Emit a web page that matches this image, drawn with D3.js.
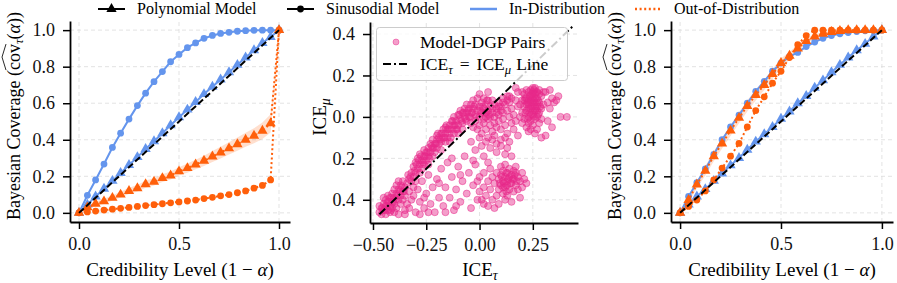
<!DOCTYPE html>
<html>
<head>
<meta charset="utf-8">
<script src="https://cdn.jsdelivr.net/npm/d3@7"></script>
<style>
  body { margin: 0; background: #fff; }
  svg { display: block; }
  text { font-family: "Liberation Serif", "DejaVu Serif", serif; }
</style>
</head>
<body>
<script>
// credibility levels (1 - alpha), 25 points
const credLevels = [0, 0.042, 0.083, 0.125, 0.167, 0.208, 0.25, 0.292, 0.333, 0.375, 0.417, 0.458,
  0.5, 0.542, 0.583, 0.625, 0.667, 0.708, 0.75, 0.792, 0.833, 0.875, 0.917, 0.958, 1.0];

// left panel
const leftPolyIn = [0, 0.045, 0.09, 0.132, 0.175, 0.218, 0.262, 0.305, 0.35, 0.392, 0.436, 0.48,
  0.523, 0.565, 0.607, 0.65, 0.69, 0.73, 0.77, 0.81, 0.85, 0.89, 0.93, 0.962, 1.0];
const leftSinIn = [0, 0.096, 0.18, 0.267, 0.358, 0.436, 0.513, 0.587, 0.655, 0.718, 0.773, 0.827,
  0.867, 0.904, 0.93, 0.955, 0.971, 0.982, 0.988, 0.994, 0.997, 0.999, 1, 1, 1];
const leftPolyOod = [0, 0.03, 0.05, 0.063, 0.082, 0.1, 0.12, 0.135, 0.157, 0.17, 0.19, 0.205,
  0.227, 0.245, 0.265, 0.285, 0.309, 0.33, 0.353, 0.376, 0.4, 0.422, 0.449, 0.49, 1.0];
const leftPolyOodLo = [0, 0.02, 0.038, 0.049, 0.067, 0.084, 0.103, 0.117, 0.137, 0.15, 0.169, 0.183,
  0.204, 0.22, 0.239, 0.257, 0.279, 0.298, 0.319, 0.34, 0.362, 0.381, 0.404, 0.44, 1.0];
const leftPolyOodHi = [0, 0.04, 0.062, 0.077, 0.097, 0.116, 0.137, 0.153, 0.177, 0.19, 0.211, 0.227,
  0.25, 0.27, 0.291, 0.313, 0.339, 0.362, 0.387, 0.412, 0.438, 0.463, 0.494, 0.54, 1.0];
const leftSinOod = [0, 0.005, 0.01, 0.015, 0.02, 0.025, 0.03, 0.035, 0.04, 0.045, 0.05, 0.055,
  0.06, 0.065, 0.07, 0.078, 0.085, 0.093, 0.1, 0.11, 0.12, 0.135, 0.15, 0.18, 1.0];

// right panel
const rightPolyIn = [0, 0.045, 0.09, 0.13, 0.175, 0.215, 0.26, 0.3, 0.345, 0.39, 0.43, 0.47,
  0.515, 0.555, 0.6, 0.64, 0.685, 0.725, 0.77, 0.81, 0.85, 0.89, 0.925, 0.965, 1.0];
const rightSinIn = [0, 0.09, 0.165, 0.24, 0.32, 0.40, 0.47, 0.535, 0.60, 0.665, 0.72, 0.775,
  0.82, 0.855, 0.878, 0.91, 0.935, 0.955, 0.97, 0.98, 0.987, 0.992, 0.996, 0.998, 1.0];
const rightPolyOod = [0, 0.07, 0.155, 0.23, 0.31, 0.38, 0.45, 0.52, 0.585, 0.645, 0.70, 0.76,
  0.82, 0.86, 0.90, 0.94, 0.965, 0.98, 0.99, 0.995, 1, 1, 1, 1, 1];
const rightPolyOodLo = [0, 0.055, 0.135, 0.205, 0.283, 0.352, 0.421, 0.49, 0.555, 0.615, 0.672, 0.732,
  0.795, 0.838, 0.882, 0.925, 0.953, 0.97, 0.983, 0.99, 0.996, 0.998, 0.999, 1, 1];
const rightPolyOodHi = [0, 0.085, 0.175, 0.255, 0.337, 0.408, 0.479, 0.55, 0.615, 0.675, 0.728, 0.788,
  0.845, 0.882, 0.918, 0.955, 0.977, 0.99, 0.997, 1, 1, 1, 1, 1, 1];
const rightSinOod = [0, 0.035, 0.07, 0.12, 0.18, 0.245, 0.31, 0.38, 0.47, 0.56, 0.635, 0.71,
  0.775, 0.85, 0.92, 0.97, 1, 1, 1, 1, 1, 1, 1, 1, 1];

// middle panel: [ICE_tau, ICE_mu] per model-DGP pair
const icePairs = [
  // bottom-left blob
  [-0.47,-0.46],[-0.46,-0.44],[-0.46,-0.47],[-0.45,-0.42],[-0.45,-0.45],[-0.44,-0.43],[-0.44,-0.40],[-0.44,-0.47],
  [-0.43,-0.45],[-0.43,-0.41],[-0.43,-0.38],[-0.42,-0.43],[-0.42,-0.39],[-0.42,-0.46],[-0.41,-0.41],[-0.41,-0.37],
  [-0.41,-0.44],[-0.40,-0.39],[-0.40,-0.35],[-0.40,-0.42],[-0.39,-0.37],[-0.39,-0.33],[-0.39,-0.44],[-0.38,-0.40],
  [-0.38,-0.35],[-0.38,-0.31],[-0.37,-0.38],[-0.37,-0.33],[-0.37,-0.42],[-0.36,-0.36],[-0.36,-0.31],[-0.36,-0.40],
  [-0.35,-0.34],[-0.35,-0.38],[-0.34,-0.32],[-0.34,-0.42],[-0.33,-0.36],[-0.33,-0.30],[-0.45,-0.39],[-0.47,-0.43],
  [-0.40,-0.46],[-0.38,-0.47],[-0.35,-0.45],[-0.32,-0.40],[-0.31,-0.34],
  [-0.455,-0.44],[-0.435,-0.43],[-0.425,-0.41],[-0.415,-0.39],[-0.405,-0.41],[-0.395,-0.40],[-0.385,-0.38],
  [-0.375,-0.36],[-0.365,-0.34],[-0.355,-0.36],[-0.415,-0.45],[-0.445,-0.45],
  // band along the diagonal
  [-0.32,-0.27],[-0.32,-0.31],[-0.31,-0.24],[-0.31,-0.29],[-0.30,-0.22],[-0.30,-0.27],[-0.30,-0.31],[-0.29,-0.25],
  [-0.29,-0.20],[-0.28,-0.23],[-0.28,-0.27],[-0.28,-0.18],[-0.27,-0.21],[-0.27,-0.25],[-0.26,-0.19],[-0.26,-0.23],
  [-0.26,-0.16],[-0.25,-0.21],[-0.25,-0.17],[-0.24,-0.19],[-0.24,-0.15],[-0.24,-0.23],[-0.23,-0.17],[-0.23,-0.13],
  [-0.22,-0.15],[-0.22,-0.19],[-0.22,-0.11],[-0.21,-0.13],[-0.21,-0.17],[-0.20,-0.11],[-0.20,-0.15],[-0.20,-0.09],
  [-0.19,-0.13],[-0.19,-0.10],[-0.18,-0.08],[-0.18,-0.12],[-0.18,-0.16],[-0.17,-0.10],[-0.17,-0.06],[-0.16,-0.08],
  [-0.16,-0.12],[-0.16,-0.05],[-0.15,-0.06],[-0.15,-0.10],[-0.14,-0.04],[-0.14,-0.08],[-0.14,-0.12],[-0.13,-0.06],
  [-0.13,-0.02],[-0.12,-0.04],[-0.12,-0.08],[-0.12,0.00],[-0.11,-0.02],[-0.11,-0.06],[-0.10,0.01],[-0.10,-0.04],
  [-0.10,-0.08],[-0.09,-0.01],[-0.09,0.03],[-0.08,0.02],[-0.08,-0.03],[-0.08,-0.06],[-0.07,0.00],[-0.07,0.04],
  [-0.06,0.02],[-0.06,-0.02],[-0.06,0.06],[-0.05,0.04],[-0.05,0.00],[-0.04,0.06],[-0.04,0.02],[-0.04,-0.03],
  [-0.03,0.04],[-0.03,0.08],[-0.02,0.01],[-0.02,0.06],[-0.02,-0.02],[-0.01,0.03],[-0.01,0.09],[0.00,0.05],
  [0.00,0.00],[0.00,0.11],[0.01,0.02],[0.01,0.07],[0.02,0.04],[0.02,0.09],[0.02,-0.01],[0.03,0.06],
  [0.03,0.02],[0.04,0.08],[0.04,0.03],[0.04,0.12],[0.05,0.05],[0.05,0.00],[0.07,0.06],[0.09,0.05],
  [0.11,0.07],[0.13,0.08],[0.14,0.10],
  [-0.335,-0.28],[-0.325,-0.29],[-0.305,-0.26],[-0.295,-0.23],[-0.285,-0.21],[-0.275,-0.19],[-0.265,-0.22],
  [-0.255,-0.19],[-0.245,-0.17],[-0.235,-0.20],[-0.225,-0.14],[-0.215,-0.15],[-0.205,-0.13],[-0.195,-0.08],
  [-0.185,-0.11],[-0.175,-0.08],[-0.165,-0.10],[-0.155,-0.04],[-0.145,-0.06],[-0.135,-0.10],[-0.125,-0.02],
  [-0.115,-0.04],[-0.105,-0.06],[-0.095,0.01],[-0.085,-0.02],[-0.075,0.02],[-0.065,-0.01],[-0.055,0.03],
  [-0.045,0.00],[-0.035,0.02],[-0.025,0.05],[-0.015,0.00],[0.005,0.03],[0.015,0.05],[0.025,0.02],[0.035,0.08],
  [0.045,0.01],[0.06,0.04],[0.08,0.02],[0.10,0.03],
  // around the origin, spreading right
  [0.02,-0.03],[0.03,-0.06],[0.04,-0.01],[0.05,-0.04],[0.06,0.02],[0.06,-0.07],[0.07,0.00],[0.07,-0.03],
  [0.08,0.04],[0.08,-0.05],[0.09,0.01],[0.09,-0.02],[0.10,0.05],[0.10,-0.06],[0.11,0.02],[0.11,-0.01],
  [0.12,0.06],[0.12,-0.04],[0.13,0.03],[0.13,-0.08],[0.14,0.00],[0.14,0.07],[0.15,-0.03],[0.15,0.04],
  [0.16,-0.06],[0.16,0.01],[0.17,0.08],[0.17,-0.02],[0.18,-0.09],[0.18,0.05],[0.00,-0.04],[-0.01,-0.06],
  [-0.03,-0.05],[0.01,-0.08],[0.04,-0.10],[0.07,-0.09],[0.10,-0.11],[0.12,-0.10],[0.03,0.00],[0.06,0.08],
  [0.09,0.07],[0.11,0.09],[0.13,0.10],[0.15,0.09],[0.08,-0.13],
  // dense blob on the right
  [0.20,0.02],[0.20,0.08],[0.20,-0.03],[0.21,0.05],[0.21,0.11],[0.21,-0.01],[0.22,0.03],[0.22,0.09],
  [0.22,-0.05],[0.22,0.13],[0.23,0.00],[0.23,0.06],[0.23,0.12],[0.23,-0.03],[0.24,0.04],[0.24,0.10],
  [0.24,-0.02],[0.24,0.07],[0.24,0.13],[0.25,0.01],[0.25,0.05],[0.25,0.09],[0.25,-0.04],[0.25,0.12],
  [0.26,0.03],[0.26,0.07],[0.26,0.11],[0.26,-0.01],[0.26,0.14],[0.27,0.05],[0.27,0.09],[0.27,0.00],
  [0.27,0.12],[0.27,-0.06],[0.28,0.02],[0.28,0.07],[0.28,0.11],[0.28,-0.03],[0.29,0.04],[0.29,0.10],
  [0.29,-0.01],[0.30,0.06],[0.30,0.12],[0.23,0.08],[0.24,0.01],[0.25,0.07],[0.26,0.05],[0.27,0.03],
  [0.22,0.06],[0.21,0.08],[0.24,-0.06],[0.26,-0.08],[0.23,-0.07],[0.19,0.00],[0.19,0.06],[0.20,0.12],
  [0.28,0.13],[0.25,0.14],[0.24,0.08],[0.25,0.03],[0.26,0.09],[0.23,0.04],[0.27,0.07],[0.25,0.11],
  [0.215,0.02],[0.225,0.07],[0.235,0.10],[0.245,0.05],[0.255,0.00],[0.255,0.08],[0.265,0.04],[0.265,0.12],
  [0.275,0.08],[0.235,0.02],[0.245,0.11],[0.255,0.13],[0.225,-0.01],[0.275,0.01],[0.285,0.05],[0.215,0.09],
  [0.32,0.07],[0.33,0.04],[0.34,0.09],[0.35,0.07],[0.36,0.08],[0.37,0.10],[0.32,-0.02],[0.34,-0.05],
  [0.31,-0.09],[0.29,-0.10],[0.38,0.00],[0.41,0.00],[0.31,0.12],[0.33,0.13],[0.18,0.12],[0.17,0.14],
  // lower-right blob
  [0.08,-0.27],[0.09,-0.30],[0.10,-0.28],[0.10,-0.33],[0.11,-0.26],[0.11,-0.31],[0.12,-0.29],[0.12,-0.34],
  [0.13,-0.27],[0.13,-0.31],[0.14,-0.25],[0.14,-0.29],[0.14,-0.35],[0.15,-0.28],[0.15,-0.32],[0.16,-0.26],
  [0.16,-0.30],[0.17,-0.33],[0.17,-0.27],[0.18,-0.29],[0.18,-0.35],[0.19,-0.31],[0.20,-0.27],[0.20,-0.34],
  [0.21,-0.30],[0.07,-0.32],[0.06,-0.29],[0.05,-0.35],[0.04,-0.31],[0.03,-0.38],[0.02,-0.34],[0.01,-0.40],
  [0.00,-0.36],[-0.01,-0.31],[0.06,-0.40],[0.08,-0.38],[0.09,-0.42],[0.11,-0.37],[0.12,-0.40],[0.13,-0.38],
  [0.15,-0.41],[0.16,-0.36],[0.19,-0.39],[0.04,-0.43],[0.02,-0.42],[0.07,-0.44],[0.10,-0.24],[0.12,-0.23],
  [0.05,-0.25],[0.02,-0.27],[0.00,-0.29],[0.17,-0.24],[0.22,-0.32],[0.11,-0.34],[0.13,-0.33],[0.09,-0.35],
  [0.105,-0.29],[0.115,-0.32],[0.125,-0.27],[0.135,-0.30],[0.145,-0.32],[0.155,-0.30],[0.165,-0.28],
  [0.125,-0.36],[0.095,-0.32],[0.175,-0.31],
  // in between
  [-0.04,-0.12],[-0.02,-0.16],[0.00,-0.10],[0.01,-0.14],[0.02,-0.19],[0.03,-0.12],[0.05,-0.15],[0.06,-0.11],
  [0.08,-0.17],[0.10,-0.14],[0.12,-0.18],[0.13,-0.15],[0.15,-0.19],[0.14,-0.12],[-0.03,-0.21],[0.04,-0.22],
  // scattered below the diagonal
  [-0.33,-0.44],[-0.31,-0.38],[-0.30,-0.46],[-0.29,-0.35],[-0.28,-0.41],[-0.27,-0.31],[-0.26,-0.44],[-0.25,-0.37],
  [-0.24,-0.28],[-0.23,-0.42],[-0.22,-0.34],[-0.21,-0.46],[-0.20,-0.30],[-0.19,-0.39],[-0.18,-0.25],[-0.17,-0.43],
  [-0.16,-0.34],[-0.15,-0.22],[-0.14,-0.39],[-0.13,-0.29],[-0.12,-0.45],[-0.11,-0.35],[-0.10,-0.24],[-0.09,-0.41],
  [-0.08,-0.31],[-0.07,-0.19],[-0.06,-0.37],[-0.05,-0.27],[-0.04,-0.44],[-0.03,-0.33],[-0.02,-0.23],[-0.01,-0.40],
  [-0.28,-0.47],[-0.24,-0.46],[-0.16,-0.46],[-0.35,-0.47],[-0.09,-0.28],[-0.13,-0.20],[-0.19,-0.32],[-0.11,-0.43],
  [-0.26,-0.39]
];

const BLUE = "#6495ed";
const ORANGE = "#ff5f0a";
const PINK = "#e7298a";
const FONT = '"Liberation Serif", "DejaVu Serif", serif';

const svg = d3.select("body").append("svg").attr("width", 897).attr("height", 283);

// write text made of parts: {t, it, sub, dx}
function rich(textSel, parts) {
  let shift = 0;
  parts.forEach(p => {
    const target = p.sub ? 4 : 0;
    const ts = textSel.append("tspan").text(p.t).attr("dy", target - shift);
    if (p.dx) ts.attr("dx", p.dx);
    shift = target;
    if (p.it) ts.attr("font-style", "italic");
    if (p.sub) ts.attr("font-size", "0.72em");
  });
  return textSel;
}

function makePanel(o) {
  const x = d3.scaleLinear(o.xDom, o.xRange);
  const y = d3.scaleLinear(o.yDom, o.yRange);
  const g = svg.append("g");

  // dashed grid
  const grid = g.append("g").attr("stroke", "#dcdcdc").attr("stroke-width", 0.8).attr("stroke-dasharray", "4,3");
  grid.selectAll(".gx").data(o.xTicks).join("line")
    .attr("x1", d => x(d)).attr("x2", d => x(d)).attr("y1", o.yRange[0]).attr("y2", o.yRange[1]);
  grid.selectAll(".gy").data(o.yTicks).join("line")
    .attr("y1", d => y(d)).attr("y2", d => y(d)).attr("x1", o.xRange[0]).attr("x2", o.xRange[1]);

  const xa = g.append("g").attr("transform", `translate(0,${o.yRange[0]})`)
    .call(d3.axisBottom(x).tickValues(o.xTicks).tickFormat(o.xFmt).tickSize(7).tickPadding(8).tickSizeOuter(0));
  const ya = g.append("g").attr("transform", `translate(${o.xRange[0]},0)`)
    .call(d3.axisLeft(y).tickValues(o.yTicks).tickFormat(o.yFmt).tickSize(7).tickPadding(8).tickSizeOuter(0));
  [xa, ya].forEach(a => {
    a.attr("font-family", FONT).attr("font-size", 18);
    a.select(".domain").attr("stroke-width", 1.8);
    a.selectAll(".tick line").attr("stroke-width", 1.5);
    a.selectAll(".tick text").attr("fill", "#111");
  });
  const marks = g.append("g");
  return { x, y, g: marks };
}

function coverageLabelY(cx, cy) {
  const g = svg.append("g").attr("transform", `translate(${cx},${cy}) rotate(-90)`);
  const t = g.append("text").attr("text-anchor", "middle").attr("dominant-baseline", "central")
    .attr("font-size", 18);
  rich(t, [{ t: "Bayesian Coverage (" }, { t: "cov" }, { t: "τ", it: true, sub: true }, { t: "(" }, { t: "α", it: true }, { t: "))" }]);
  const n = t.node();
  const start = "Bayesian Coverage (".length;
  const p0 = n.getStartPositionOfChar(start);
  const p1 = n.getEndPositionOfChar(start + 2);
  const hatY = p0.y - 8;
  g.append("path")
    .attr("d", `M${p0.x},${hatY} L${(p0.x + p1.x) / 2},${hatY - 4} L${p1.x},${hatY}`)
    .attr("fill", "none").attr("stroke", "#111").attr("stroke-width", 0.9);
}

function credLabelX(cx, cy) {
  const t = svg.append("text").attr("x", cx).attr("y", cy).attr("text-anchor", "middle").attr("font-size", 19);
  rich(t, [{ t: "Credibility Level (1 − " }, { t: "α", it: true }, { t: ")" }]);
}

function coveragePanel(o) {
  const p = makePanel({
    xDom: [-0.045, 1.055], xRange: o.xRange, yDom: [-0.05, 1.05], yRange: [222, 21],
    xTicks: [0, 0.5, 1], yTicks: [0, 0.2, 0.4, 0.6, 0.8, 1.0],
    xFmt: d3.format(".1f"), yFmt: d3.format(".1f")
  });
  const { x, y, g } = p;
  const band = d3.area().x((d, i) => x(credLevels[i])).y0(d => y(d[0])).y1(d => y(d[1]));
  g.append("path").datum(o.polyOodLo.map((v, i) => [v, o.polyOodHi[i]]))
    .attr("d", band).attr("fill", ORANGE).attr("fill-opacity", 0.2);

  const line = d3.line().x((d, i) => x(credLevels[i])).y(d => y(d));
  const tri = d3.symbol(d3.symbolTriangle, 46);
  const series = [
    { v: o.polyIn, c: BLUE, dash: null, m: "tri" },
    { v: o.sinIn, c: BLUE, dash: null, m: "circ" },
    { v: o.polyOod, c: ORANGE, dash: "2,2.6", m: "tri" },
    { v: o.sinOod, c: ORANGE, dash: "2,2.6", m: "circ" }
  ];
  series.forEach(s => {
    g.append("path").datum(s.v).attr("d", line).attr("fill", "none")
      .attr("stroke", s.c).attr("stroke-width", 2).attr("stroke-dasharray", s.dash);
    if (s.m === "tri") {
      g.append("g").selectAll("path").data(s.v).join("path")
        .attr("transform", (d, i) => `translate(${x(credLevels[i])},${y(d)})`)
        .attr("d", tri).attr("fill", s.c);
    } else {
      g.append("g").selectAll("circle").data(s.v).join("circle")
        .attr("cx", (d, i) => x(credLevels[i])).attr("cy", d => y(d)).attr("r", 3.4).attr("fill", s.c);
    }
  });
  // perfect calibration reference
  g.append("line").attr("x1", x(0)).attr("y1", y(0)).attr("x2", x(1)).attr("y2", y(1))
    .attr("stroke", "#000").attr("stroke-width", 2).attr("stroke-dasharray", "6.5,3");
  coverageLabelY(o.yLabelX, 116);
  credLabelX((o.xRange[0] + o.xRange[1]) / 2, 276);
}

coveragePanel({
  xRange: [70, 290], polyIn: leftPolyIn, sinIn: leftSinIn, polyOod: leftPolyOod,
  polyOodLo: leftPolyOodLo, polyOodHi: leftPolyOodHi, sinOod: leftSinOod, yLabelX: 14
});

// middle scatter
(function () {
  const p = makePanel({
    xDom: [-0.514, 0.462], xRange: [370, 578], yDom: [-0.512, 0.458], yRange: [223, 22],
    xTicks: [-0.5, -0.25, 0, 0.25], yTicks: [-0.4, -0.2, 0, 0.2, 0.4],
    xFmt: d3.format(".2f"), yFmt: d => d3.format(".1f")(Math.abs(d))
  });
  const { x, y, g } = p;
  g.append("g").selectAll("circle").data(icePairs).join("circle")
    .attr("cx", d => x(d[0])).attr("cy", d => y(d[1])).attr("r", 3.5)
    .attr("fill", PINK).attr("fill-opacity", 0.45)
    .attr("stroke", PINK).attr("stroke-opacity", 0.5).attr("stroke-width", 1);
  const lo = d3.min(icePairs, d => Math.min(d[0], d[1]));
  const hi = 0.44;
  g.append("line").attr("x1", x(lo)).attr("y1", y(lo)).attr("x2", x(hi)).attr("y2", y(hi))
    .attr("stroke", "#000").attr("stroke-width", 2).attr("stroke-dasharray", "8,3,2,3");

  // legend box
  const lg = svg.append("g");
  lg.append("rect").attr("x", 376.5).attr("y", 27.5).attr("width", 191).attr("height", 53).attr("rx", 3)
    .attr("fill", "#fff").attr("fill-opacity", 0.8).attr("stroke", "#cccccc").attr("stroke-width", 1);
  lg.append("circle").attr("cx", 396).attr("cy", 42).attr("r", 3)
    .attr("fill", PINK).attr("fill-opacity", 0.45).attr("stroke", PINK).attr("stroke-opacity", 0.45);
  lg.append("text").attr("x", 420).attr("y", 47.5).attr("font-size", 17.5).text("Model-DGP Pairs");
  lg.append("line").attr("x1", 383).attr("x2", 409).attr("y1", 64).attr("y2", 64)
    .attr("stroke", "#000").attr("stroke-width", 2).attr("stroke-dasharray", "8,3,2,3");
  rich(lg.append("text").attr("x", 420).attr("y", 69.5).attr("font-size", 17.5),
    [{ t: "ICE" }, { t: "τ", it: true, sub: true }, { t: "=", dx: 7 }, { t: "ICE", dx: 7 }, { t: "μ", it: true, sub: true }, { t: "Line", dx: 5 }]);

  rich(svg.append("text").attr("x", 480).attr("y", 276).attr("text-anchor", "middle").attr("font-size", 19),
    [{ t: "ICE" }, { t: "τ", it: true, sub: true }]);
  rich(svg.append("text").attr("transform", "translate(326,117) rotate(-90)").attr("text-anchor", "middle").attr("font-size", 19),
    [{ t: "ICE" }, { t: "μ", it: true, sub: true }]);
})();

coveragePanel({
  xRange: [671, 893], polyIn: rightPolyIn, sinIn: rightSinIn, polyOod: rightPolyOod,
  polyOodLo: rightPolyOodLo, polyOodHi: rightPolyOodHi, sinOod: rightSinOod, yLabelX: 615
});

// top legend
const legendG = svg.append("g").attr("font-size", 16);
const legendItems = [
  { x: 98, label: "Polynomial Model", color: "#000", dash: null, m: "tri" },
  { x: 287, label: "Sinusodial Model", color: "#000", dash: null, m: "circ" },
  { x: 470, label: "In-Distribution", color: BLUE, dash: null, m: null },
  { x: 635, label: "Out-of-Distribution", color: ORANGE, dash: "2,2.6", m: null }
];
legendItems.forEach(it => {
  legendG.append("line").attr("x1", it.x).attr("x2", it.x + 27).attr("y1", 9).attr("y2", 9)
    .attr("stroke", it.color).attr("stroke-width", it.m ? 2 : 2.5).attr("stroke-dasharray", it.dash);
  if (it.m === "tri") {
    legendG.append("path").attr("transform", `translate(${it.x + 13.5},9)`).attr("d", d3.symbol(d3.symbolTriangle, 46)).attr("fill", it.color);
  } else if (it.m === "circ") {
    legendG.append("circle").attr("cx", it.x + 13.5).attr("cy", 9).attr("r", 3.4).attr("fill", it.color);
  }
  legendG.append("text").attr("x", it.x + 39).attr("y", 14).text(it.label);
});
</script>
</body>
</html>
